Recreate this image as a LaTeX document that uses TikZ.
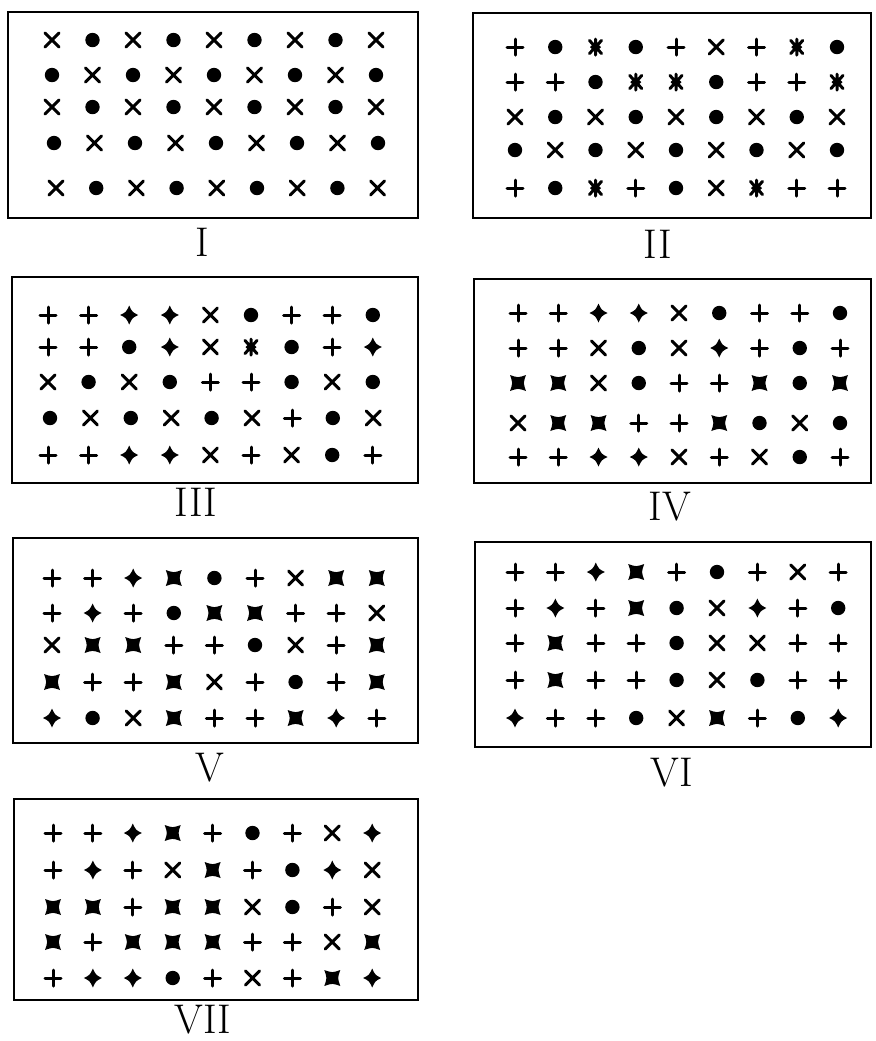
\documentclass[tikz,border=0pt]{standalone}
\usepackage{tikz}
\usetikzlibrary{calc}
\tikzset{
  markLine/.style={line width=1.5pt, line cap=round},
  panelBox/.style={draw, line width=1.3pt},
  panelLabel/.style={font=\huge, inner sep=0pt},
  mark x/.pic={\draw[markLine] (-7,-7) -- (7,7) (-7,7) -- (7,-7);},
  mark o/.pic={\fill (0,0) circle[radius=7.2];},
  mark p/.pic={\draw[markLine] (-8,0) -- (8,0) (0,-8) -- (0,8);},
  mark s/.pic={
    \draw[markLine] (-6,-6.5) -- (6,6.5) (-6,6.5) -- (6,-6.5)
      (0,-8) -- (0,8) (-4,0) -- (4,0);
    \fill (0,0) circle[radius=4];},
  mark d/.pic={\fill (0,-9.5) .. controls (3,-3) .. (9,0)
    .. controls (3,3) .. (0,9.5) .. controls (-3,3) .. (-9,0)
    .. controls (-3,-3) .. cycle;},
  mark q/.pic={\fill (-8,-8) .. controls (0,-5.2) .. (8,-8)
    .. controls (5.2,0) .. (8,8) .. controls (0,5.2) .. (-8,8)
    .. controls (-5.2,0) .. cycle;}
}
% one row of marks: first x, step, y, marks
\newcommand\markrow[4]{%
  \foreach \s [count=\c from 0] in {#4}
    \pic at ({#1+\c*#2},#3) {mark \s};}

\begin{document}
\begin{tikzpicture}[x=0.5pt,y=-0.5pt]
  \useasboundingbox (0,0) rectangle (875,1041);

  % I
  \draw[panelBox] (8,12) rectangle (418,218);
  \node[panelLabel] (labI) at (202,242) {I};
  \markrow{52}{40.5}{40}{x,o,x,o,x,o,x,o,x}
  \markrow{52}{40.5}{75}{o,x,o,x,o,x,o,x,o}
  \markrow{52}{40.5}{107}{x,o,x,o,x,o,x,o,x}
  \markrow{54}{40.5}{143}{o,x,o,x,o,x,o,x,o}
  \markrow{56}{40.2}{188}{x,o,x,o,x,o,x,o,x}

  % II
  \draw[panelBox] (473,13) rectangle (871,218);
  \node[panelLabel] (labII) at (658,244) {II};
  \markrow{515}{40.25}{47}{p,o,s,o,p,x,p,s,o}
  \markrow{515}{40.25}{82}{p,p,o,s,s,o,p,p,s}
  \markrow{515}{40.25}{117}{x,o,x,o,x,o,x,o,x}
  \markrow{515}{40.25}{150}{o,x,o,x,o,x,o,x,o}
  \markrow{515}{40.25}{188}{p,o,s,p,o,x,s,p,p}

  % III
  \draw[panelBox] (12,277) rectangle (418,483);
  \node[panelLabel] (labIII) at (196,502) {III};
  \markrow{48}{40.6}{315}{p,p,d,d,x,o,p,p,o}
  \markrow{48}{40.6}{347}{p,p,o,d,x,s,o,p,d}
  \markrow{48}{40.6}{382}{x,o,x,o,p,p,o,x,o}
  \markrow{50}{40.4}{418}{o,x,o,x,o,x,p,o,x}
  \markrow{48}{40.6}{455}{p,p,d,d,x,p,x,o,p}

  % IV
  \draw[panelBox] (474,279) rectangle (871,483);
  \node[panelLabel] (labIV) at (670,507) {IV};
  \markrow{518}{40.25}{313}{p,p,d,d,x,o,p,p,o}
  \markrow{518}{40.25}{348}{p,p,x,o,x,d,p,o,p}
  \markrow{518}{40.25}{383}{q,q,x,o,p,p,q,o,q}
  \markrow{518}{40.25}{423}{x,q,q,p,p,q,o,x,o}
  \markrow{518}{40.25}{457}{p,p,d,d,x,p,x,o,p}

  % V
  \draw[panelBox] (13,538) rectangle (418,743);
  \node[panelLabel] (labV) at (210,768) {V};
  \markrow{52}{40.6}{578}{p,p,d,q,o,p,x,q,q}
  \markrow{52}{40.6}{613}{p,d,p,o,q,q,p,p,x}
  \markrow{52}{40.6}{645}{x,q,q,p,p,o,x,p,q}
  \markrow{52}{40.6}{682}{q,p,p,q,x,p,o,p,q}
  \markrow{52}{40.6}{718}{d,o,x,q,p,p,q,d,p}

  % VI
  \draw[panelBox] (475,542) rectangle (871,747);
  \node[panelLabel] (labVI) at (672,773) {VI};
  \markrow{515}{40.4}{572}{p,p,d,q,p,o,p,x,p}
  \markrow{515}{40.4}{608}{p,d,p,q,o,x,d,p,o}
  \markrow{515}{40.4}{643}{p,q,p,p,o,x,x,p,p}
  \markrow{515}{40.4}{680}{p,q,p,p,o,x,o,p,p}
  \markrow{515}{40.4}{718}{d,p,p,o,x,q,p,o,d}

  % VII
  \draw[panelBox] (14,799) rectangle (418,1000);
  \node[panelLabel] (labVII) at (203,1020) {VII};
  \markrow{53}{39.9}{833}{p,p,d,q,p,o,p,x,d}
  \markrow{53}{39.9}{870}{p,d,p,x,q,p,o,d,x}
  \markrow{53}{39.9}{907}{q,q,p,q,q,x,o,p,x}
  \markrow{53}{39.9}{942}{q,p,q,q,q,p,p,x,q}
  \markrow{53}{39.9}{978}{p,d,d,o,p,x,p,q,d}
\end{tikzpicture}
\end{document}
